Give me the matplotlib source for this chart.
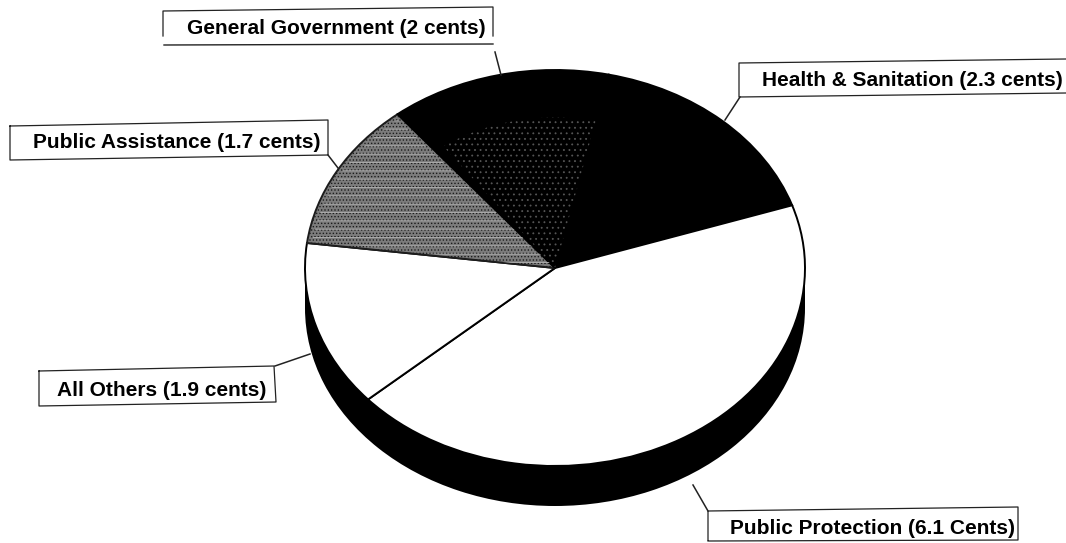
import matplotlib
matplotlib.use("Agg")
import matplotlib.pyplot as plt

# Slices go clockwise starting from the Health / General Government boundary
names = ['Health & Sanitation (2.3 cents)', 'Public Protection (6.1 Cents)', 'All Others (1.9 cents)',
         'Public Assistance (1.7 cents)', 'General Government (2 cents)']
cents = [2.3, 6.1, 1.9, 1.7, 2.0]
colors = ['black', 'white', 'white', '#7c7c7c', 'black']

# Pie geometry in pixels
W, H = 1066, 543
cx, cy = 555, 268
rx, ry = 250, 198
depth = 40
start = 77.6

plt.rcParams['font.family'] = ['Liberation Sans', 'DejaVu Sans']
plt.rcParams['hatch.linewidth'] = 0.6

fig = plt.figure(figsize=(W/100, H/100), dpi=100)

# Pie axes: a unit circle gets squashed into an ellipse by the limits
ax = fig.add_axes([0, 0, 1, 1])

# Rim of the pie, a black disc pushed down plus the band joining it to the top
off = depth/ry
ax.pie([1], colors=['black'], center=(0, -off), radius=1, startangle=0, frame=True)
ax.fill_between([-1, 1], -off, 0, color='black', lw=0)

wedges, _ = ax.pie(cents, colors=colors, startangle=start, counterclock=False, radius=1, frame=True,
                   wedgeprops={'edgecolor': 'black', 'linewidth': 1.4})

# Screen textures on the two shaded slices
wedges[3].set_hatch('.....')
wedges[3].set_edgecolor('#1c1c1c')
streak = matplotlib.patches.Wedge((0, 0), 0.98, wedges[3].theta1+1, wedges[3].theta2-1, facecolor='none',
                                  edgecolor='#b4b4b4', hatch='--', linewidth=0)
ax.add_patch(streak)
# Specks in General Government stay away from the outer edge
speck = matplotlib.patches.Wedge((0, 0), 0.76, wedges[4].theta1, wedges[4].theta2-3, facecolor='none',
                                 edgecolor='#555555', hatch='...', linewidth=0)
ax.add_patch(speck)

ax.set_xlim(-cx/rx, (W-cx)/rx)
ax.set_ylim((cy-H)/ry, cy/ry)
ax.set_aspect('auto')
ax.axis('off')

# Label layer drawn in pixel coordinates
lab = fig.add_axes([0, 0, 1, 1])
lab.set_xlim(0, W)
lab.set_ylim(H, 0)
lab.axis('off')

text_xy = [(762, 80), (730, 528), (57, 390), (33, 143), (187, 28)]
boxes = [
    [(1066, 59), (739, 63), (739, 97), (1066, 93)],
    [(708, 540), (708, 511), (1018, 507), (1018, 540), (708, 541)],
    [(39, 371), (274, 366), (276, 402), (39, 406), (39, 371)],
    [(10, 126), (328, 120), (328, 155), (10, 160), (10, 126)],
    [(163, 36), (163, 11), (493, 7), (493, 36)],
]
leaders = [
    [(740, 97), (725, 120)],
    [(708, 511), (693, 485)],
    [(275, 366), (310, 354)],
    [(328, 155), (338, 168)],
    [(495, 52), (501, 75)],
]

for name, xy, box, lead in zip(names, text_xy, boxes, leaders):
    lab.text(xy[0], xy[1], name, fontsize=15, fontweight='bold', ha='left', va='center', color='black')
    lab.plot([p[0] for p in box], [p[1] for p in box], color='#222222', lw=0.9)
    lab.plot([p[0] for p in lead], [p[1] for p in lead], color='#222222', lw=1.1)

# General Government box has its bottom rule set apart from the sides
lab.plot([164, 493], [45, 44], color='#222222', lw=1.0)

fig.savefig('out.png', dpi=100, facecolor='white')
